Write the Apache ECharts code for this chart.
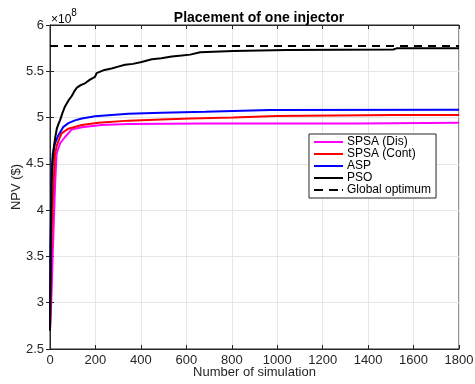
<!DOCTYPE html>
<html>
<head>
<meta charset="utf-8">
<script src="https://cdn.jsdelivr.net/npm/echarts@6/dist/echarts.min.js"></script>
<style>
  html, body { margin: 0; padding: 0; background: #fff; }
  #main { width: 475px; height: 384px; }
</style>
</head>
<body>
<div id="main"></div>
<script>
// values in units of 1e8 $
var xTicks = [0, 200, 400, 600, 800, 1000, 1200, 1400, 1600, 1800];
var yTicks = [2.5, 3, 3.5, 4, 4.5, 5, 5.5, 6];

var disX = [0, 3, 8, 12, 22, 29, 44, 66, 95, 140, 227, 345, 683, 1365, 1372, 1800];
var disY = [2.70, 2.85, 3.20, 3.53, 4.25, 4.61, 4.72, 4.79, 4.87, 4.895, 4.92, 4.93, 4.935, 4.935, 4.945, 4.945];

var contX = [0, 4, 9, 15, 22, 30, 44, 51, 81, 140, 213, 345, 491, 617, 806, 997, 1511, 1800];
var contY = [2.70, 3.30, 3.90, 4.25, 4.61, 4.70, 4.79, 4.83, 4.88, 4.92, 4.945, 4.967, 4.98, 4.99, 5.00, 5.017, 5.028, 5.028];

var aspX = [0, 3, 7, 12, 22, 37, 59, 81, 110, 140, 198, 345, 491, 683, 969, 1800];
var aspY = [2.70, 3.80, 4.40, 4.61, 4.72, 4.81, 4.90, 4.94, 4.97, 4.99, 5.015, 5.04, 5.053, 5.064, 5.082, 5.085];

var psoX = [0, 3, 7, 12, 17, 22, 30, 37, 44, 55, 66, 80, 95, 106, 117, 135, 154, 176, 198, 205, 213, 240, 271, 300, 330, 365, 403, 448, 490, 536, 580, 617, 661, 806, 1042, 1511, 1525, 1800];
var psoY = [2.70, 3.60, 4.30, 4.55, 4.68, 4.77, 4.88, 4.93, 4.97, 5.05, 5.12, 5.18, 5.23, 5.28, 5.32, 5.35, 5.37, 5.41, 5.44, 5.48, 5.50, 5.515, 5.53, 5.55, 5.57, 5.58, 5.60, 5.63, 5.64, 5.66, 5.67, 5.68, 5.705, 5.72, 5.73, 5.735, 5.748, 5.748];

var optX = [0, 1800];
var optY = [5.773, 5.773];

function pairs(xs, ys) {
  var out = [];
  for (var i = 0; i < xs.length; i++) out.push([xs[i], ys[i]]);
  return out;
}

var chart = echarts.init(document.getElementById('main'), null, { renderer: 'canvas' });
var txt = '#262626';
var font = '"Liberation Sans", Arial, sans-serif';
var solidIcon = 'path://M0,0h29v2h-29z';
var dashIcon = 'path://M0,0h9v2h-9zM15,0h9v2h-9zM28,0h1v2h-1z';

var option = {
  animation: false,
  textStyle: { fontFamily: font },
  title: {
    text: 'Placement of one injector',
    left: 254, top: 6, textAlign: 'center',
    textStyle: { fontSize: 14, fontWeight: 'bold', color: '#000', fontFamily: font }
  },
  graphic: [{
    type: 'text', left: 51, top: 8,
    style: {
      text: '{a|×10}{b|8}',
      rich: {
        a: { fontSize: 12, color: txt, fontFamily: font, padding: [6, 0, 0, 0] },
        b: { fontSize: 10, color: txt, fontFamily: font, verticalAlign: 'top' }
      }
    }
  }],
  legend: {
    orient: 'vertical',
    left: 309, top: 134,
    padding: [2, 5, 2, 5],
    itemGap: 0,
    itemWidth: 29, itemHeight: 2,
    backgroundColor: '#fff',
    borderColor: '#262626', borderWidth: 1, borderRadius: 0,
    textStyle: { fontSize: 12, color: '#000', lineHeight: 12, height: 12, padding: [0, 0, 0, -1], fontFamily: font },
    data: [
      { name: 'SPSA (Dis)', icon: solidIcon },
      { name: 'SPSA (Cont)', icon: solidIcon },
      { name: 'ASP', icon: solidIcon },
      { name: 'PSO', icon: solidIcon },
      { name: 'Global optimum', icon: dashIcon }
    ]
  },
  grid: {
    left: 50, right: 16, top: 25, bottom: 35,
    outerBoundsMode: 'none', containLabel: false,
    show: true, borderColor: '#262626', borderWidth: 1, backgroundColor: 'transparent'
  },
  xAxis: [{
    type: 'value', min: 0, max: 1800, interval: 200, position: 'bottom',
    name: 'Number of simulation', nameLocation: 'middle', nameGap: 17, nameMoveOverlap: false,
    nameTextStyle: { fontSize: 13, color: txt, fontFamily: font },
    axisLine: { lineStyle: { color: '#262626' } },
    axisTick: { inside: true, length: 4, lineStyle: { color: '#262626' } },
    axisLabel: { fontSize: 13, color: txt, margin: 5, fontFamily: font,
      formatter: function (v) { return xTicks.indexOf(v) >= 0 ? String(v) : ''; } },
    splitLine: { show: true, lineStyle: { color: '#e6e6e6' } }
  }, {
    type: 'value', min: 0, max: 1800, interval: 200, position: 'top',
    axisLine: { lineStyle: { color: '#262626' } },
    axisTick: { inside: true, length: 4, lineStyle: { color: '#262626' } },
    axisLabel: { show: false }, splitLine: { show: false }
  }],
  yAxis: [{
    type: 'value', min: 2.5, max: 6, interval: 0.5, position: 'left',
    name: 'NPV ($)', nameLocation: 'middle', nameGap: 27, nameMoveOverlap: false,
    nameTextStyle: { fontSize: 13, color: txt, fontFamily: font },
    axisLine: { show: true, lineStyle: { color: '#262626' } },
    axisTick: { show: true, inside: true, length: 4, lineStyle: { color: '#262626' } },
    axisLabel: { fontSize: 13, color: txt, margin: 6, fontFamily: font,
      formatter: function (v) { return yTicks.indexOf(v) >= 0 ? String(v) : ''; } },
    splitLine: { show: true, lineStyle: { color: '#e6e6e6' } }
  }, {
    type: 'value', min: 2.5, max: 6, interval: 0.5, position: 'right',
    axisLine: { show: true, lineStyle: { color: '#262626' } },
    axisTick: { show: true, inside: true, length: 4, lineStyle: { color: '#262626' } },
    axisLabel: { show: false }, splitLine: { show: false }
  }],
  series: [
    { name: 'SPSA (Dis)', type: 'line', symbol: 'none', color: '#ff00ff',
      lineStyle: { width: 2, color: '#ff00ff' }, data: pairs(disX, disY) },
    { name: 'SPSA (Cont)', type: 'line', symbol: 'none', color: '#ff0000',
      lineStyle: { width: 2, color: '#ff0000' }, data: pairs(contX, contY) },
    { name: 'ASP', type: 'line', symbol: 'none', color: '#0000ff',
      lineStyle: { width: 2, color: '#0000ff' }, data: pairs(aspX, aspY) },
    { name: 'PSO', type: 'line', symbol: 'none', color: '#000000',
      lineStyle: { width: 2, color: '#000000' }, data: pairs(psoX, psoY) },
    { name: 'Global optimum', type: 'line', symbol: 'none', color: '#000000',
      lineStyle: { width: 2, color: '#000000', type: [8, 6] }, data: pairs(optX, optY) }
  ]
};
chart.setOption(option);
</script>
</body>
</html>
